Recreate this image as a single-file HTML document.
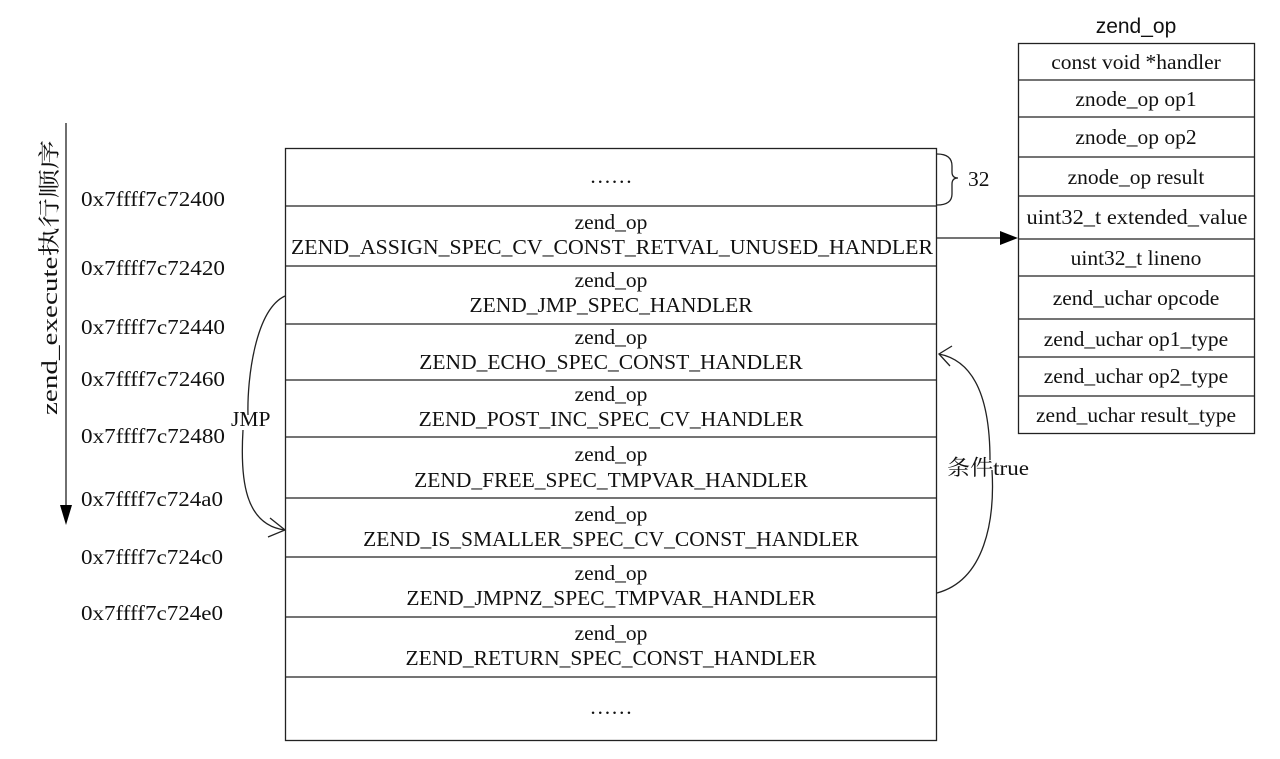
<!DOCTYPE html>
<html><head><meta charset="utf-8"><style>
html,body{margin:0;padding:0;background:#fff;}
svg text{font-family:"Liberation Serif","Noto Serif CJK SC",serif;font-size:21.5px;fill:#111;}
</style></head><body>
<svg width="1280" height="754" viewBox="0 0 1280 754" xmlns="http://www.w3.org/2000/svg">
<g stroke="#222" stroke-width="1.3" fill="none">
<rect x="285.5" y="148.5" width="651" height="592"/>
<line x1="285" y1="206" x2="937" y2="206"/>
<line x1="285" y1="266" x2="937" y2="266"/>
<line x1="285" y1="324" x2="937" y2="324"/>
<line x1="285" y1="380" x2="937" y2="380"/>
<line x1="285" y1="437" x2="937" y2="437"/>
<line x1="285" y1="498" x2="937" y2="498"/>
<line x1="285" y1="557" x2="937" y2="557"/>
<line x1="285" y1="617" x2="937" y2="617"/>
<line x1="285" y1="677" x2="937" y2="677"/>
<rect x="1018.5" y="43.5" width="236" height="390"/>
<line x1="1018" y1="80" x2="1255" y2="80"/>
<line x1="1018" y1="117" x2="1255" y2="117"/>
<line x1="1018" y1="157" x2="1255" y2="157"/>
<line x1="1018" y1="196" x2="1255" y2="196"/>
<line x1="1018" y1="239" x2="1255" y2="239"/>
<line x1="1018" y1="276" x2="1255" y2="276"/>
<line x1="1018" y1="319" x2="1255" y2="319"/>
<line x1="1018" y1="357" x2="1255" y2="357"/>
<line x1="1018" y1="396" x2="1255" y2="396"/>
<path d="M937,154 Q952,154 952,166 L952,172 Q952,178 958,178 Q952,178 952,184 L952,194 Q952,205 937,205"/>
<line x1="937" y1="238" x2="1000" y2="238"/>
<line x1="66" y1="123" x2="66" y2="510"/>
<path d="M285,296 C255,310 247,380 248,415"/>
<path d="M243,430 C240,480 245,525 285,530"/>
<path d="M270,518 L285,530 L268,537"/>
<path d="M937,593 C985,580 995,520 992,470"/>
<path d="M990,460 C990,390 970,360 939,354"/>
<path d="M952,346 L939,354 L950,366"/>
</g>
<path d="M1000,231 L1018,238 L1000,245 z" fill="#000"/>
<path d="M60,505 L72,505 L66,525 z" fill="#000"/>
<g text-anchor="middle">
<text x="611" y="183">……</text>
<text x="611" y="229">zend_op</text><text x="612" y="254" textLength="642" lengthAdjust="spacingAndGlyphs">ZEND_ASSIGN_SPEC_CV_CONST_RETVAL_UNUSED_HANDLER</text>
<text x="611" y="287">zend_op</text><text x="611" y="312">ZEND_JMP_SPEC_HANDLER</text>
<text x="611" y="344">zend_op</text><text x="611" y="369">ZEND_ECHO_SPEC_CONST_HANDLER</text>
<text x="611" y="401">zend_op</text><text x="611" y="426">ZEND_POST_INC_SPEC_CV_HANDLER</text>
<text x="611" y="461">zend_op</text><text x="611" y="487">ZEND_FREE_SPEC_TMPVAR_HANDLER</text>
<text x="611" y="521">zend_op</text><text x="611" y="546">ZEND_IS_SMALLER_SPEC_CV_CONST_HANDLER</text>
<text x="611" y="580">zend_op</text><text x="611" y="605">ZEND_JMPNZ_SPEC_TMPVAR_HANDLER</text>
<text x="611" y="640">zend_op</text><text x="611" y="665">ZEND_RETURN_SPEC_CONST_HANDLER</text>
<text x="611" y="714">……</text>
<text x="1136" y="33" style="font-family:'Liberation Sans',sans-serif;font-size:21px">zend_op</text>
<text x="1136" y="69">const void *handler</text>
<text x="1136" y="106">znode_op op1</text>
<text x="1136" y="144">znode_op op2</text>
<text x="1136" y="184">znode_op result</text>
<text x="1137" y="224" textLength="221" lengthAdjust="spacingAndGlyphs">uint32_t extended_value</text>
<text x="1136" y="265">uint32_t lineno</text>
<text x="1136" y="305">zend_uchar opcode</text>
<text x="1136" y="346">zend_uchar op1_type</text>
<text x="1136" y="383">zend_uchar op2_type</text>
<text x="1136" y="422">zend_uchar result_type</text>
</g>
<text x="968" y="186">32</text>
<text x="231" y="426">JMP</text>
<text x="947" y="475" textLength="82" lengthAdjust="spacingAndGlyphs">条件true</text>
<g>
<text x="81" y="206" textLength="144" lengthAdjust="spacingAndGlyphs">0x7ffff7c72400</text>
<text x="81" y="275" textLength="144" lengthAdjust="spacingAndGlyphs">0x7ffff7c72420</text>
<text x="81" y="334" textLength="144" lengthAdjust="spacingAndGlyphs">0x7ffff7c72440</text>
<text x="81" y="386" textLength="144" lengthAdjust="spacingAndGlyphs">0x7ffff7c72460</text>
<text x="81" y="443" textLength="144" lengthAdjust="spacingAndGlyphs">0x7ffff7c72480</text>
<text x="81" y="506" textLength="142" lengthAdjust="spacingAndGlyphs">0x7ffff7c724a0</text>
<text x="81" y="564" textLength="142" lengthAdjust="spacingAndGlyphs">0x7ffff7c724c0</text>
<text x="81" y="620" textLength="142" lengthAdjust="spacingAndGlyphs">0x7ffff7c724e0</text>
</g>
<text transform="translate(57,415) rotate(-90)" x="0" y="0" style="font-size:22px" textLength="275" lengthAdjust="spacingAndGlyphs">zend_execute执行顺序</text>
</svg>
</body></html>
